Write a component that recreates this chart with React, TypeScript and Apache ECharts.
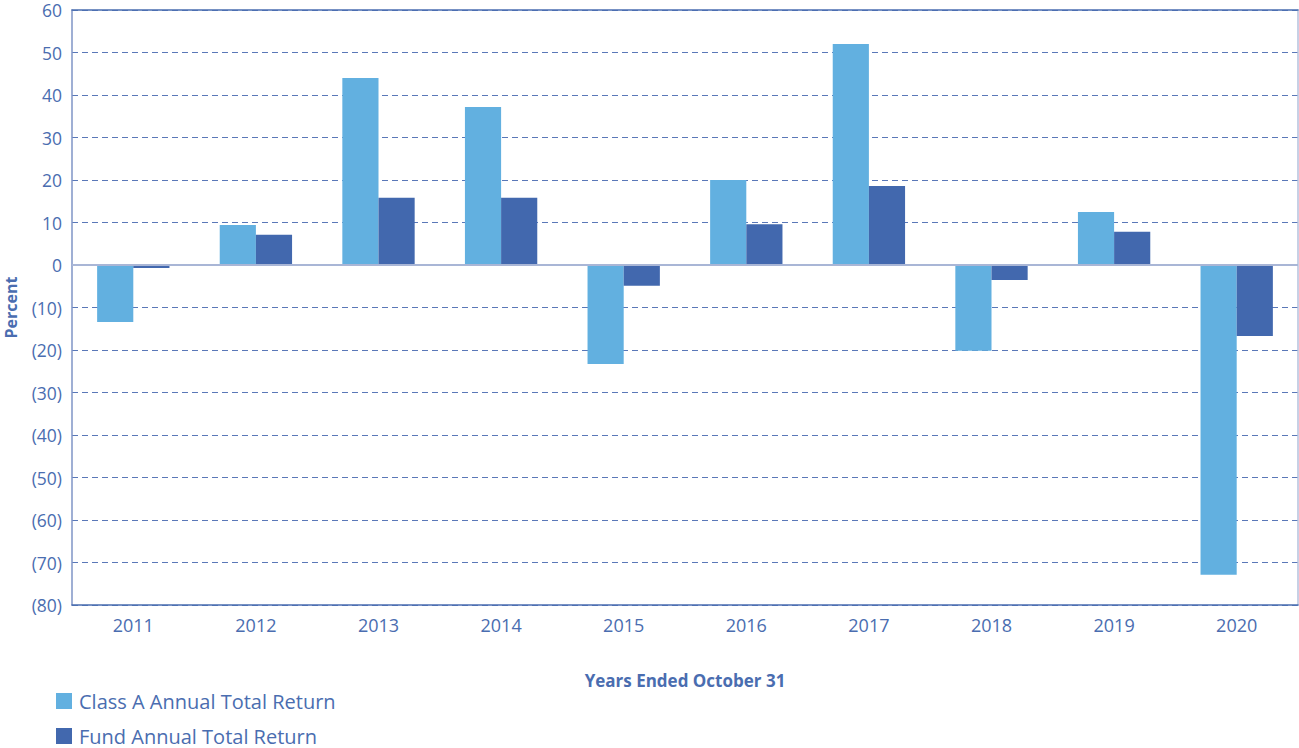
import React, { useEffect, useRef } from "react";
import * as echarts from "echarts";

const years = ["2011", "2012", "2013", "2014", "2015", "2016", "2017", "2018", "2019", "2020"];
const classA = [-13.4, 9.4, 44.0, 37.2, -23.3, 20.0, 52.0, -20.2, 12.5, -72.9];
const fund = [-0.7, 7.1, 15.8, 15.8, -4.9, 9.6, 18.6, -3.5, 7.8, -16.7];
const seriesNames = ["Class A Annual Total Return", "Fund Annual Total Return"];

const TXT = "#4a6db0";
const FONT = "Open Sans";

const legendBase = {
  orient: "horizontal",
  left: 56,
  padding: 0,
  itemWidth: 16,
  itemHeight: 16,
  icon: "rect",
  textStyle: { fontFamily: FONT, fontSize: 20, lineHeight: 18, color: TXT, padding: [0, 0, 0, 2] },
};

export default function App() {
  const ref = useRef<HTMLDivElement>(null);
  useEffect(() => {
    document.body.style.margin = "0";
    const chart = echarts.init(ref.current!, null, { renderer: "svg" });
    chart.setOption({
      animation: false,
      textStyle: { fontFamily: FONT, color: TXT },
      grid: { left: 72, right: 1, top: 10, bottom: 143, outerBoundsMode: "none", containLabel: false },
      legend: [
        { ...legendBase, top: 691, data: [seriesNames[0]] },
        { ...legendBase, top: 726, data: [seriesNames[1]] },
      ],
      xAxis: [
        {
          type: "category",
          data: years,
          position: "bottom",
          axisLine: { onZero: false, lineStyle: { color: TXT, width: 1.5 } },
          axisTick: { show: false },
          axisLabel: { color: TXT, fontSize: 18, margin: 11, fontFamily: FONT },
          name: "Years Ended October 31",
          nameLocation: "middle",
          nameGap: 67,
          nameTextStyle: { color: TXT, fontSize: 17, fontWeight: "bold", fontFamily: FONT },
        },
        {
          type: "category",
          data: years,
          position: "top",
          axisLine: { onZero: false, lineStyle: { color: TXT, width: 1.5 } },
          axisTick: { show: false },
          axisLabel: { show: false },
        },
      ],
      yAxis: [
        {
          type: "value",
          min: -80,
          max: 60,
          interval: 10,
          axisLine: { show: true, onZero: false, lineStyle: { color: "#7f95c6", width: 1.5 } },
          axisTick: { show: false },
          axisLabel: {
            color: TXT,
            fontSize: 17.5,
            lineHeight: 16,
            margin: 10,
            fontFamily: FONT,
            formatter: (v: number) => (v < 0 ? `(${Math.abs(v)})` : `${v}`),
          },
          splitLine: { lineStyle: { type: [6, 4], color: "#5a78b8", width: 1 } },
          name: "Percent",
          nameLocation: "middle",
          nameGap: 53,
          nameTextStyle: { color: TXT, fontSize: 16, fontWeight: "bold", fontFamily: FONT },
        },
        {
          type: "value",
          min: -80,
          max: 60,
          interval: 10,
          position: "right",
          axisLine: { show: true, onZero: false, lineStyle: { color: "#b4c0dc", width: 1.5 } },
          axisTick: { show: false },
          axisLabel: { show: false },
          splitLine: { show: false },
        },
      ],
      series: [
        {
          name: seriesNames[0],
          type: "bar",
          data: classA,
          itemStyle: { color: "#62b0e0" },
          barGap: "0%",
          barCategoryGap: "41%",
          markLine: {
            silent: true,
            symbol: "none",
            label: { show: false },
            lineStyle: { color: "#a9b6d6", type: "solid", width: 2 },
            data: [{ yAxis: 0 }],
          },
          z: 3,
        },
        {
          name: seriesNames[1],
          type: "bar",
          data: fund,
          itemStyle: { color: "#4268ae" },
          barGap: "0%",
          barCategoryGap: "41%",
          z: 3,
        },
      ],
    });
    return () => chart.dispose();
  }, []);
  return <div ref={ref} style={{ width: 1299, height: 748 }} />;
}
